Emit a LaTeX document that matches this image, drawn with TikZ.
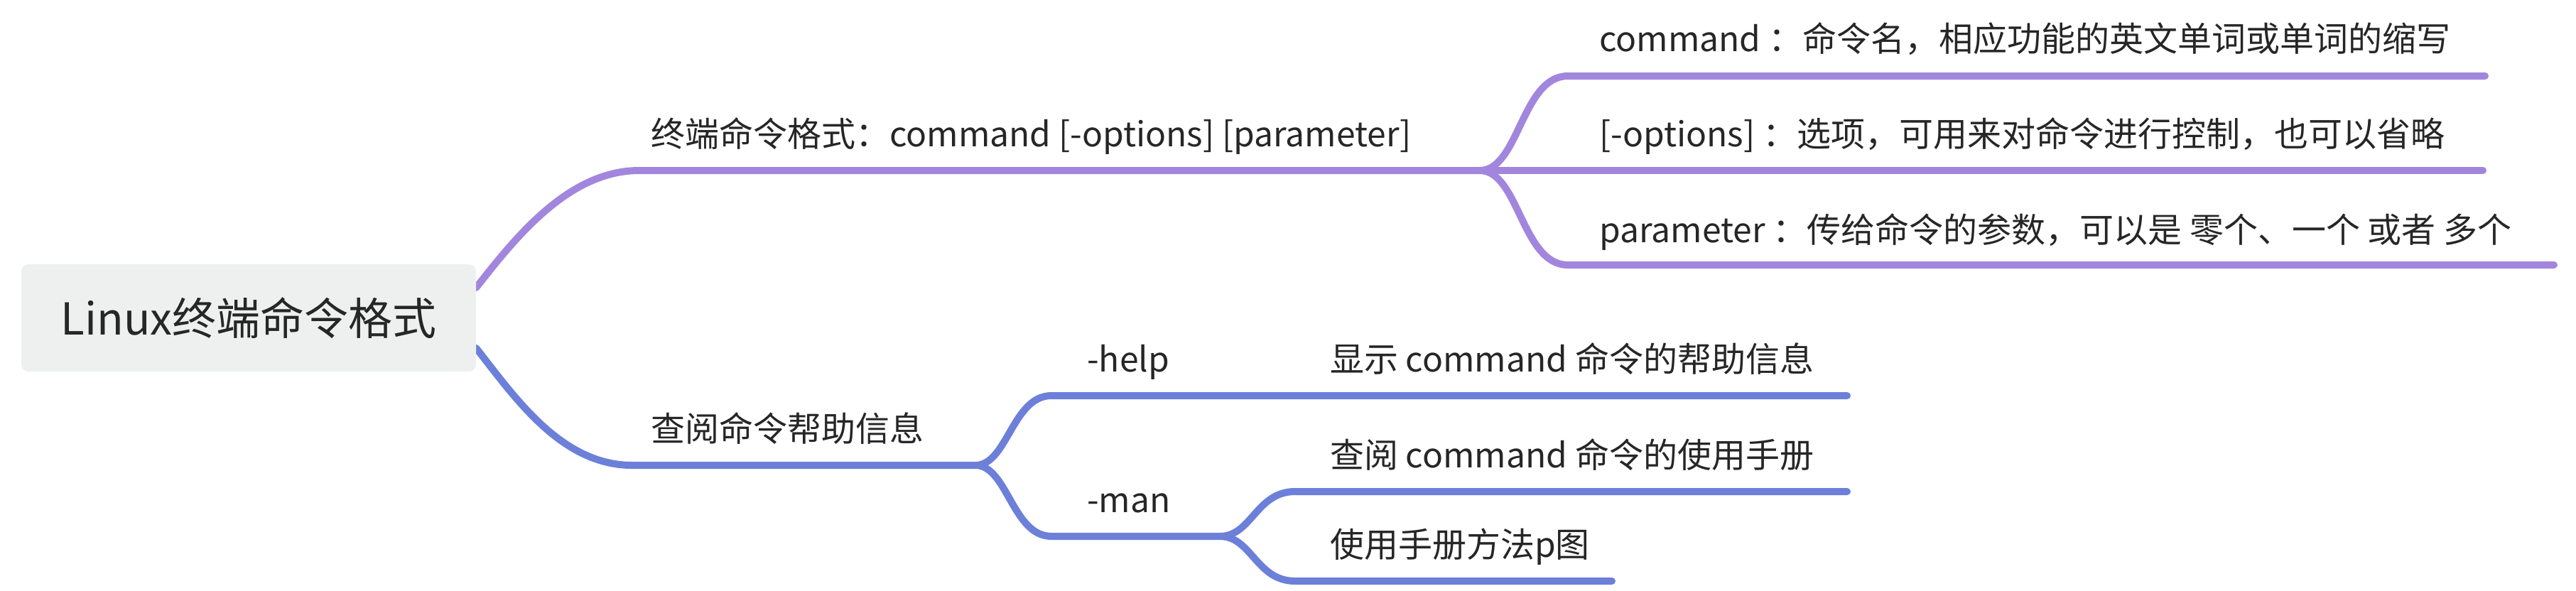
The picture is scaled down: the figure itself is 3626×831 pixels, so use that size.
\documentclass[tikz,border=0pt]{standalone}
\usepackage{fontspec}
\setmainfont{Noto Sans CJK SC}
\usetikzlibrary{backgrounds}
\definecolor{mmpurple}{HTML}{A286DE}
\definecolor{mmblue}{HTML}{6C80D9}
\definecolor{mmgray}{HTML}{EEF0EF}
\definecolor{mmtext}{HTML}{262626}

\begin{document}
\begin{tikzpicture}[x=1pt, y=-1pt,
    branch/.style={line width=10pt, line cap=round},
    purplebranch/.style={branch, draw=mmpurple},
    bluebranch/.style={branch, draw=mmblue},
    topic/.style={anchor=base west, inner sep=0pt, text=mmtext,
        font=\fontsize{48pt}{58pt}\selectfont},
    rootbox/.style={fill=mmgray, rounded corners=10pt, inner sep=0pt,
        minimum width=640pt, minimum height=151pt, text=mmtext,
        font=\fontsize{62pt}{74pt}\selectfont}]
    \useasboundingbox (0,0) rectangle (3626,831);

    \node[rootbox] (root) at (350,447.5) {Linux终端命令格式};

    \node[topic] (fmt) at (916,206) {终端命令格式：command [-options] [parameter]};
    \node[topic] (cmd) at (2251,72) {command ：命令名，相应功能的英文单词或单词的缩写};
    \node[topic] (opt) at (2251,206) {[-options] ：选项，可用来对命令进行控制，也可以省略};
    \node[topic] (par) at (2251,341) {parameter ：传给命令的参数，可以是 零个、一个 或者 多个};

    \node[topic] (lookup) at (916,621) {查阅命令帮助信息};
    \node[topic] (hlp) at (1530,523) {-help};
    \node[topic] (man) at (1530,721) {-man};
    \node[topic] (hlpinfo) at (1872,523) {显示 command 命令的帮助信息};
    \node[topic] (mandoc) at (1872,658) {查阅 command 命令的使用手册};
    \node[topic] (manpic) at (1872,784) {使用手册方法p图};

    \coordinate (fmtfork) at (2083,240);
    \coordinate (lookupfork) at (1373,655);
    \coordinate (manfork) at (1717,755);
    \coordinate (cmdend) at (3498,107);
    \coordinate (optend) at (3495,240);
    \coordinate (parend) at (3595,373);
    \coordinate (hlpend) at (2600,557);
    \coordinate (mandocend) at (2600,692);
    \coordinate (manpicend) at (2269,818);

    \begin{scope}[on background layer]
        \draw[purplebranch] ([yshift=42.5pt]root.east)
            .. controls +(55,-70) and +(-100,0) .. (900,240) -- (fmtfork);
        \draw[purplebranch] (fmtfork)
            .. controls +(55,0) and +(-65,0) .. (2207,107) -- (cmdend);
        \draw[purplebranch] (fmtfork) -- (optend);
        \draw[purplebranch] (fmtfork)
            .. controls +(55,0) and +(-65,0) .. (2207,373) -- (parend);

        \draw[bluebranch] ([yshift=-42.5pt]root.east)
            .. controls +(55,70) and +(-100,0) .. (890,655) -- (lookupfork);
        \draw[bluebranch] (lookupfork)
            .. controls +(45,0) and +(-55,0) .. (1480,557) -- (hlpend);
        \draw[bluebranch] (lookupfork)
            .. controls +(45,0) and +(-55,0) .. (1480,755) -- (manfork);
        \draw[bluebranch] (manfork)
            .. controls +(45,0) and +(-55,0) .. (1823,692) -- (mandocend);
        \draw[bluebranch] (manfork)
            .. controls +(45,0) and +(-55,0) .. (1823,818) -- (manpicend);
    \end{scope}
\end{tikzpicture}
\end{document}
